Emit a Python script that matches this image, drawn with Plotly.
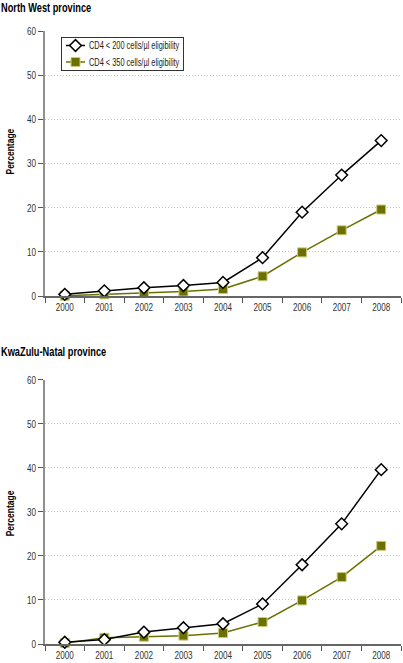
import plotly.graph_objects as go
from plotly.subplots import make_subplots

years = ["2000", "2001", "2002", "2003", "2004", "2005", "2006", "2007", "2008"]
nw_cd4_200 = [0.4, 1.2, 1.9, 2.4, 3.1, 8.7, 19.0, 27.4, 35.2]
nw_cd4_350 = [0.1, 0.4, 0.7, 1.05, 1.6, 4.5, 9.9, 14.9, 19.6]
kzn_cd4_200 = [0.4, 1.0, 2.7, 3.7, 4.6, 9.1, 18.0, 27.3, 39.6]
kzn_cd4_350 = [0.2, 1.4, 1.65, 1.9, 2.5, 5.0, 9.9, 15.2, 22.3]
titles = ["North West province", "KwaZulu-Natal province"]
series_names = ["CD4 < 200 cells/µl eligibility", "CD4 < 350 cells/µl eligibility"]
y_ticks = [0, 10, 20, 30, 40, 50, 60]

FONT = "Liberation Sans, Arial, sans-serif"
OLIVE = "#6b7000"

fig = make_subplots(rows=2, cols=1)

sq_marker = dict(symbol="square", size=9, color=OLIVE, line=dict(color="#c9cc7a", width=1))
di_marker = dict(symbol="diamond", size=9, color="white", line=dict(color="black", width=1.5))

for row, (s200, s350) in enumerate([(nw_cd4_200, nw_cd4_350), (kzn_cd4_200, kzn_cd4_350)], start=1):
    fig.add_trace(go.Scatter(
        x=years, y=s350, name=series_names[1], mode="lines+markers",
        line=dict(color=OLIVE, width=1.5), marker=sq_marker,
        showlegend=False, cliponaxis=False), row=row, col=1)
    fig.add_trace(go.Scatter(
        x=years, y=s200, name=series_names[0], mode="lines+markers",
        line=dict(color="black", width=1.5), marker=di_marker,
        showlegend=(row == 1), cliponaxis=False), row=row, col=1)

fig.add_trace(go.Scatter(
    x=[None], y=[None], name=series_names[1], mode="lines+markers",
    line=dict(color=OLIVE, width=1.5), marker=sq_marker,
    showlegend=True), row=1, col=1)

L, R, T, B = 45, 2, 31, 17
H, W = 663, 403
ph = H - T - B
pw = W - L - R
def fy(p):
    return (H - B - p) / ph
def fx(p):
    return (p - L) / pw

fig.update_layout(
    width=W, height=H,
    margin=dict(l=L, r=R, t=T, b=B),
    paper_bgcolor="white", plot_bgcolor="white",
    font=dict(family=FONT, size=11, color="#333333"),
    legend=dict(x=fx(61), y=fy(37), xanchor="left", yanchor="top",
                bordercolor="#333333", borderwidth=1, bgcolor="white",
                font=dict(family=FONT, size=10, color="#222222"),
                tracegroupgap=0, itemwidth=30),
)

domains = [[fy(297), fy(31)], [fy(646), fy(381)]]
for i, ax in enumerate(["", "2"]):
    fig.layout["yaxis" + ax].update(
        domain=domains[i], range=[0, 60], tickvals=y_ticks,
        showgrid=True, gridcolor="#c4c4c4", griddash="1px,2px", gridwidth=1,
        showline=True, linecolor="#909090", linewidth=1.5,
        ticks="outside", ticklen=5, tickcolor="#555555",
        tickfont=dict(family=FONT, size=11, color="#333333"),
        zeroline=False)
    fig.layout["xaxis" + ax].update(
        type="category", range=[-0.5, 8.5],
        showline=True, linecolor="#666666", linewidth=1.5,
        ticks="outside", ticklen=5, tickcolor="#555555", tickson="boundaries",
        showgrid=False, tickfont=dict(family=FONT, size=11, color="#333333"))

title_y = [8, 353]
label_y = [152, 515]
for i in range(2):
    fig.add_annotation(text="<b>" + titles[i] + "</b>", xref="paper", yref="paper",
                       x=fx(-1), y=fy(title_y[i]), xanchor="left", yanchor="middle", align="left",
                       showarrow=False, font=dict(family=FONT, size=12.5, color="black"))
    fig.add_annotation(text="<b>Percentage</b>", xref="paper", yref="paper",
                       x=fx(10), y=fy(label_y[i]), xanchor="center", yanchor="middle",
                       textangle=-90, showarrow=False, font=dict(family=FONT, size=11.5, color="black"))

post = """
var gd = document.getElementById('{plot_id}');
var st = document.createElement('style');
st.textContent = 'html,body{margin:0!important;padding:0!important}';
document.head.appendChild(st);
var SX = 0.74;
// compact legend entries (shorter symbol, tighter rows)
var ROW0 = 8.5, ROWH = 16.5, TX = 27;
var entries = gd.querySelectorAll('.legend .traces');
entries.forEach(function(g, i) {
  var tr = g.getAttribute('transform') || '';
  var m = /translate\\(\\s*([-\\d.]+)/.exec(tr);
  var x0 = m ? parseFloat(m[1]) : 0;
  g.setAttribute('transform', 'translate(' + x0 + ',' + (ROW0 + ROWH * i) + ')');
  g.querySelectorAll('.legendlines path').forEach(function(p) { p.setAttribute('d', 'M4,0h19'); });
  g.querySelectorAll('.legendpoints path').forEach(function(p) { p.setAttribute('transform', 'translate(13.5,0)'); });
  var t = g.querySelector('text.legendtext');
  if (t) t.setAttribute('x', TX);
});
function squeeze(t) {
  var b = t.getBBox();
  if (!b || !b.width) return 0;
  var a = t.getAttribute('text-anchor') || 'start';
  var ax = a === 'middle' ? b.x + b.width / 2 : (a === 'end' ? b.x + b.width : b.x);
  var tr = t.getAttribute('transform') || '';
  t.setAttribute('transform', tr + ' translate(' + ax + ',0) scale(' + SX + ',1) translate(' + (-ax) + ',0)');
  return b.width;
}
var legMax = 0;
gd.querySelectorAll('svg text').forEach(function(t) {
  var w = squeeze(t);
  if (t.closest('.legend')) legMax = Math.max(legMax, w);
});
var bg = gd.querySelector('.legend rect.bg');
if (bg && legMax) {
  bg.setAttribute('width', TX + SX * legMax + 5);
  bg.setAttribute('height', ROW0 * 2 + ROWH * (entries.length - 1));
}
"""

fig.write_html("out.html", post_script=post, config={"displayModeBar": False})
